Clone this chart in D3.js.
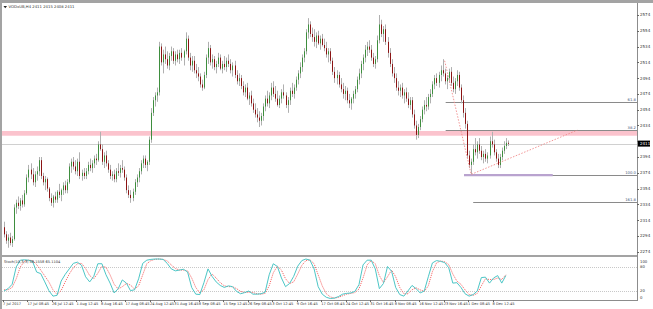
<!DOCTYPE html>
<html>
<head>
<meta charset="utf-8">
<script src="https://cdn.jsdelivr.net/npm/d3@7"></script>
<style>
  body { margin: 0; background: #fff; }
  svg { display: block; }
  text { font-family: "DejaVu Sans", sans-serif; }
</style>
</head>
<body>
<div id="chart"></div>
<script>
// H4 candles, [open, high, low, close]
const candles = [
  [2305,2312,2292,2296],[2296,2300,2284,2288],[2288,2296,2279,2292],[2292,2298,2282,2285],[2285,2294,2280,2290],
  [2290,2334,2288,2330],[2330,2340,2322,2336],[2336,2344,2328,2332],[2332,2342,2326,2339],[2339,2346,2330,2334],
  [2334,2352,2331,2348],[2348,2372,2346,2368],[2368,2384,2362,2378],[2378,2386,2366,2372],[2372,2380,2358,2362],
  [2362,2376,2356,2372],[2372,2382,2364,2376],[2376,2394,2370,2390],[2390,2394,2366,2370],[2370,2374,2358,2362],
  [2362,2370,2352,2366],[2366,2368,2350,2354],[2354,2356,2338,2342],[2342,2348,2332,2336],[2336,2346,2330,2344],
  [2344,2350,2336,2340],[2340,2352,2336,2350],[2350,2360,2342,2346],[2346,2354,2338,2352],[2352,2362,2346,2358],
  [2358,2364,2348,2352],[2352,2366,2348,2362],[2362,2386,2360,2382],[2382,2392,2374,2388],[2388,2394,2378,2382],
  [2382,2390,2372,2376],[2376,2392,2370,2388],[2388,2400,2366,2370],[2370,2378,2364,2374],[2374,2380,2366,2370],
  [2370,2380,2366,2376],[2376,2388,2372,2384],[2384,2392,2376,2380],[2380,2390,2374,2386],[2386,2396,2380,2392],
  [2392,2398,2384,2390],[2390,2414,2388,2410],[2410,2426,2402,2404],[2404,2410,2384,2388],[2388,2400,2380,2396],
  [2396,2402,2382,2386],[2386,2390,2374,2378],[2378,2384,2366,2370],[2370,2376,2364,2372],[2372,2378,2362,2366],
  [2366,2380,2362,2376],[2376,2386,2370,2374],[2374,2384,2368,2380],[2380,2390,2374,2378],[2378,2382,2364,2368],
  [2368,2372,2348,2352],[2352,2358,2342,2346],[2346,2352,2336,2342],[2342,2354,2338,2350],[2350,2366,2346,2362],
  [2362,2372,2356,2368],[2368,2380,2362,2376],[2376,2390,2372,2386],[2386,2396,2380,2392],[2392,2396,2380,2384],
  [2384,2390,2376,2388],[2388,2420,2384,2416],[2416,2456,2412,2450],[2450,2470,2446,2466],[2466,2476,2458,2472],
  [2472,2482,2464,2476],[2476,2540,2472,2534],[2534,2538,2510,2514],[2514,2530,2500,2524],[2524,2534,2512,2518],
  [2518,2528,2506,2510],[2510,2526,2504,2522],[2522,2534,2516,2528],[2528,2532,2512,2516],[2516,2528,2510,2524],
  [2524,2530,2514,2518],[2518,2530,2512,2526],[2526,2532,2516,2520],[2520,2530,2510,2528],[2528,2552,2524,2544],
  [2544,2548,2516,2520],[2520,2526,2504,2510],[2510,2522,2502,2516],[2516,2522,2500,2504],[2504,2512,2494,2500],
  [2500,2508,2490,2496],[2496,2500,2482,2486],[2486,2492,2478,2482],[2482,2502,2480,2498],[2498,2524,2494,2520],
  [2520,2540,2512,2532],[2532,2536,2510,2514],[2514,2524,2506,2518],[2518,2522,2504,2508],[2508,2516,2500,2512],
  [2512,2526,2508,2520],[2520,2524,2504,2506],[2506,2516,2500,2512],[2512,2522,2504,2508],[2508,2520,2502,2516],
  [2516,2524,2508,2512],[2512,2518,2500,2504],[2504,2514,2496,2510],[2510,2516,2494,2498],[2498,2504,2486,2490],
  [2490,2500,2484,2494],[2494,2498,2480,2484],[2484,2490,2472,2476],[2476,2486,2470,2482],[2482,2488,2466,2468],
  [2468,2476,2460,2472],[2472,2478,2458,2462],[2462,2468,2450,2454],[2454,2462,2444,2448],[2448,2456,2438,2444],
  [2444,2452,2432,2440],[2440,2450,2434,2446],[2446,2462,2440,2458],[2458,2472,2452,2468],[2468,2478,2458,2462],
  [2462,2476,2456,2472],[2472,2488,2466,2482],[2482,2490,2470,2474],[2474,2484,2464,2468],[2468,2478,2458,2460],
  [2460,2472,2456,2468],[2468,2480,2462,2476],[2476,2486,2468,2472],[2472,2476,2456,2460],[2460,2470,2450,2466],
  [2466,2482,2460,2478],[2478,2488,2470,2474],[2474,2486,2468,2482],[2482,2496,2478,2492],[2492,2504,2486,2500],
  [2500,2514,2494,2508],[2508,2524,2502,2520],[2520,2532,2514,2528],[2528,2556,2524,2552],[2552,2570,2544,2562],
  [2562,2566,2546,2550],[2550,2558,2540,2546],[2546,2556,2534,2540],[2540,2552,2532,2548],[2548,2554,2536,2538],
  [2538,2548,2530,2544],[2544,2550,2534,2536],[2536,2544,2528,2532],[2532,2540,2520,2524],[2524,2532,2514,2528],
  [2528,2532,2512,2516],[2516,2520,2498,2502],[2502,2508,2488,2494],[2494,2504,2486,2498],[2498,2502,2482,2486],
  [2486,2494,2476,2480],[2480,2488,2468,2474],[2474,2484,2466,2478],[2478,2482,2462,2466],[2466,2474,2456,2462],
  [2462,2470,2454,2468],[2468,2478,2462,2474],[2474,2484,2468,2480],[2480,2496,2476,2492],[2492,2506,2486,2500],
  [2500,2516,2494,2512],[2512,2524,2504,2520],[2520,2536,2514,2530],[2530,2540,2522,2534],[2534,2542,2526,2530],
  [2530,2536,2516,2520],[2520,2526,2508,2512],[2512,2522,2506,2518],[2518,2548,2514,2542],[2542,2574,2538,2562],
  [2562,2568,2546,2550],[2550,2560,2540,2556],[2556,2562,2536,2540],[2540,2546,2520,2526],[2526,2532,2508,2512],
  [2512,2518,2496,2500],[2500,2508,2488,2494],[2494,2500,2478,2482],[2482,2490,2472,2478],[2478,2486,2470,2482],
  [2482,2488,2468,2472],[2472,2480,2462,2476],[2476,2482,2464,2468],[2468,2476,2456,2460],[2460,2470,2454,2466],
  [2466,2470,2444,2448],[2448,2454,2430,2434],[2434,2440,2416,2422],[2422,2436,2418,2432],[2432,2446,2428,2442],
  [2442,2458,2438,2454],[2454,2466,2448,2460],[2460,2470,2452,2458],[2458,2474,2454,2470],[2470,2480,2462,2474],
  [2474,2490,2470,2486],[2486,2498,2480,2494],[2494,2500,2484,2488],[2488,2502,2482,2498],[2498,2510,2490,2504],
  [2504,2518,2496,2500],[2500,2506,2486,2490],[2490,2498,2480,2494],[2494,2506,2488,2502],[2502,2508,2484,2488],
  [2488,2496,2476,2480],[2480,2494,2474,2490],[2490,2504,2484,2498],[2498,2502,2478,2482],[2482,2486,2462,2466],
  [2466,2472,2444,2450],[2450,2456,2430,2436],[2436,2440,2392,2396],[2396,2402,2380,2384],[2384,2392,2372,2388],
  [2388,2410,2384,2404],[2404,2418,2396,2400],[2400,2414,2392,2410],[2410,2418,2398,2402],[2402,2408,2390,2394],
  [2394,2402,2386,2398],[2398,2404,2388,2392],[2392,2400,2386,2396],[2396,2420,2392,2414],[2414,2426,2406,2410],
  [2410,2416,2396,2400],[2400,2404,2388,2392],[2392,2398,2380,2384],[2384,2398,2380,2394],[2394,2406,2390,2402],
  [2402,2414,2398,2408],[2408,2418,2404,2412],[2412,2415,2408,2411]
];

// Stochastic(10,3,3), one value every second bar
const stochK = [19,25,36,80,97,98,97,94,67,63,42,20,6,8,44,61,75,89,92,84,55,42,56,88,88,60,39,14,25,47,39,20,22,50,89,97,99,100,100,99,
  89,75,70,72,74,67,28,11,10,40,75,56,42,33,28,32,30,18,12,15,19,11,11,12,16,60,88,81,52,30,38,56,82,96,100,97,75,30,11,3,
  0,1,5,11,13,14,18,35,85,97,97,75,25,38,81,69,28,10,6,19,33,25,14,19,55,90,96,94,91,78,39,40,28,12,6,10,19,53,54,39,52,58,39,58];
const stochD = [22,22,28,50,80,94,97,96,86,72,57,42,22,10,20,42,62,78,88,89,76,58,50,64,82,79,60,36,24,30,38,34,24,32,60,88,96,99,100,99,
  95,85,76,72,72,70,52,28,14,22,48,62,52,40,32,30,30,25,18,15,16,15,12,11,13,32,65,82,72,50,38,42,62,84,96,98,88,60,32,12,
  4,1,3,7,11,13,15,24,52,85,96,88,58,40,55,72,55,28,12,12,22,27,22,18,32,68,90,95,93,86,62,44,36,22,10,8,13,32,50,48,48,52,48,60];

const priceTicks = [2574,2554,2534,2514,2494,2474,2454,2434,2414,2394,2374,2354,2334,2314,2294,2274];
const stochTicks = [100,80,20,0];
const timeLabels = ["7 Jul 2017","17 Jul 08:45","26 Jul 12:45","1 Aug 12:45","8 Aug 16:45","17 Aug 08:45","24 Aug 12:45",
  "31 Aug 16:45","8 Sep 08:45","15 Sep 12:45","26 Sep 08:45","3 Oct 12:45","9 Oct 16:45","17 Oct 08:45","24 Oct 12:45",
  "31 Oct 16:45","8 Nov 08:45","16 Nov 12:45","23 Nov 16:45","1 Dec 08:45","8 Dec 12:45"];
const labelEvery = 12;

const lastPrice = 2411;
const zone = [2421, 2427];
const trendPoints = [{ i: 216, p: 2516 }, { i: 229, p: 2372 }, { i: 281, p: 2428 }];
const fibLevels = [
  { label: "61.8", p: 2464, from: 216.5 },
  { label: "38.2", p: 2428, from: 216.5 },
  { label: "100.0", p: 2371, from: 225.5 },
  { label: "161.8", p: 2337, from: 230 }
];
const baseSpan = [225.5, 269];

const W = 653, H = 309;
const plotR = 637, mainT = 3, mainB = 255, stochT = 257, stochB = 300;

const svg = d3.select('#chart').append('svg')
    .attr('width', W)
    .attr('height', H);

// scales
const x = d3.scaleLinear().domain([0, 311]).range([4, 4 + 311 * 2.04]);
const y = d3.scaleLinear().domain([2274, 2574]).range([251.7, 15]);
const ys = d3.scaleLinear().domain([0, 100]).range([298.5, 259]);

svg.append('clipPath').attr('id', 'mainClip')
  .append('rect').attr('x', 2).attr('y', mainT).attr('width', plotR - 2).attr('height', mainB - mainT);

const main = svg.append('g').attr('clip-path', 'url(#mainClip)');

// support zone
main.append('rect')
    .attr('x', 2).attr('width', plotR - 2)
    .attr('y', y(zone[1])).attr('height', y(zone[0]) - y(zone[1]))
    .style('fill', '#fbc3cd');

// current price line
main.append('line')
    .attr('x1', 2).attr('x2', plotR)
    .attr('y1', Math.round(y(lastPrice)) + 0.5).attr('y2', Math.round(y(lastPrice)) + 0.5)
    .style('stroke', '#d0d0d0');

// fib lines
main.selectAll('.fib')
    .data(fibLevels)
    .enter().append('line')
    .attr('x1', d => x(d.from)).attr('x2', plotR)
    .attr('y1', d => Math.round(y(d.p)) + 0.5).attr('y2', d => Math.round(y(d.p)) + 0.5)
    .style('stroke', '#8a8a8a');

main.append('line')
    .attr('x1', x(baseSpan[0])).attr('x2', x(baseSpan[1]))
    .attr('y1', y(2371)).attr('y2', y(2371))
    .style('stroke', '#b9a3cf').style('stroke-width', 2.2);

// candles
const candle = main.selectAll('.candle')
    .data(candles)
    .enter().append('g');

candle.append('line')
    .attr('x1', (d, i) => Math.round(x(i)) + 0.5)
    .attr('x2', (d, i) => Math.round(x(i)) + 0.5)
    .attr('y1', d => y(d[1]))
    .attr('y2', d => y(d[2]))
    .style('stroke', '#b0b0b0');

candle.append('rect')
    .attr('x', (d, i) => Math.round(x(i)))
    .attr('width', 1)
    .attr('y', d => y(Math.max(d[0], d[3])))
    .attr('height', d => Math.max(1, Math.abs(y(d[0]) - y(d[3]))))
    .style('fill', d => d[3] >= d[0] ? '#3e8e3e' : '#8b1414');

// dotted trend lines
main.append('path')
    .datum(trendPoints)
    .attr('d', d3.line().x(d => x(d.i)).y(d => y(d.p)))
    .style('fill', 'none')
    .style('stroke', '#f08a8a')
    .style('stroke-width', 0.9)
    .style('stroke-dasharray', '1.5,1.5');

// fib labels
svg.selectAll('.fibLabel')
    .data(fibLevels)
    .enter().append('text')
    .attr('x', plotR - 1).attr('y', d => y(d.p) - 1)
    .attr('text-anchor', 'end')
    .style('font-size', '3.8px')
    .style('fill', '#4a5a7a')
    .text(d => d.label);

// frame
svg.append('rect').attr('x', 0).attr('y', 0).attr('width', W).attr('height', 3).style('fill', '#a3a3a3');
svg.append('rect').attr('x', 0).attr('y', 0).attr('width', 2).attr('height', H).style('fill', '#a3a3a3');
svg.append('rect').attr('x', 2).attr('y', mainB).attr('width', plotR - 2).attr('height', 2).style('fill', '#a3a3a3');
svg.append('line').attr('x1', plotR + 0.5).attr('x2', plotR + 0.5).attr('y1', mainT).attr('y2', stochB + 0.5)
    .style('stroke', '#8c8c8c');
svg.append('line').attr('x1', 2).attr('x2', plotR + 1).attr('y1', stochB + 0.5).attr('y2', stochB + 0.5)
    .style('stroke', '#8c8c8c');

// price axis (the label hidden by the last-price box is skipped)
const visibleTicks = priceTicks.filter(d => Math.abs(y(d) - y(lastPrice)) > 5);
const pAxis = svg.append('g');
pAxis.selectAll('line')
    .data(priceTicks)
    .enter().append('line')
    .attr('x1', plotR).attr('x2', plotR + 2)
    .attr('y1', d => Math.round(y(d)) + 0.5).attr('y2', d => Math.round(y(d)) + 0.5)
    .style('stroke', '#666');
pAxis.selectAll('text')
    .data(visibleTicks)
    .enter().append('text')
    .attr('x', plotR + 3).attr('y', d => y(d) + 1.4)
    .style('font-size', '4px')
    .style('fill', '#333')
    .text(d => d);

// last price box
svg.append('rect')
    .attr('x', plotR + 1).attr('y', y(lastPrice) - 3)
    .attr('width', 12).attr('height', 6)
    .style('fill', '#000');
svg.append('text')
    .attr('x', plotR + 3).attr('y', y(lastPrice) + 1.4)
    .style('font-size', '4px').style('fill', '#fff')
    .text(lastPrice);

// title
svg.append('path').attr('d', 'M3.5,6 L7,6 L5.25,8.2 Z').style('fill', '#222');
svg.append('text')
    .attr('x', 8.5).attr('y', 8.3)
    .style('font-size', '3.8px').style('fill', '#333')
    .text('VODxUB,H4  2411 2415 2408 2411');

// stochastic panel
const stoch = svg.append('g');
stoch.selectAll('.lvl')
    .data([80, 20])
    .enter().append('line')
    .attr('x1', 2).attr('x2', plotR)
    .attr('y1', d => Math.round(ys(d)) + 0.5).attr('y2', d => Math.round(ys(d)) + 0.5)
    .style('stroke', '#c8c8c8')
    .style('stroke-dasharray', '1,1');

stoch.append('path')
    .datum(stochD)
    .attr('d', d3.line().x((d, j) => x(j * 2)).y(d => ys(d)))
    .style('fill', 'none')
    .style('stroke', '#f45a5a')
    .style('stroke-width', 0.9)
    .style('stroke-dasharray', '1.2,1');

stoch.append('path')
    .datum(stochK)
    .attr('d', d3.line().x((d, j) => x(j * 2)).y(d => ys(d)))
    .style('fill', 'none')
    .style('stroke', '#4cc6c6')
    .style('stroke-width', 1);

stoch.append('text')
    .attr('x', 4).attr('y', 263)
    .style('font-size', '3.6px').style('fill', '#333')
    .text('Stoch(10,3,3) 58.1558 65.1104');

stoch.selectAll('.sl')
    .data(stochTicks)
    .enter().append('text')
    .attr('x', plotR + 3)
    .attr('y', d => d === 100 ? 262.5 : d === 0 ? 298.5 : ys(d) + 1.4)
    .style('font-size', '3.8px').style('fill', '#333')
    .text(d => d);

// time axis
svg.selectAll('.tl')
    .data(timeLabels)
    .enter().append('text')
    .attr('x', (d, k) => x(k * labelEvery) - 1)
    .attr('y', 305)
    .style('font-size', '3.6px').style('fill', '#333')
    .text(d => d);
svg.selectAll('.tt')
    .data(timeLabels)
    .enter().append('line')
    .attr('x1', (d, k) => Math.round(x(k * labelEvery)) - 0.5)
    .attr('x2', (d, k) => Math.round(x(k * labelEvery)) - 0.5)
    .attr('y1', stochB).attr('y2', stochB + 2)
    .style('stroke', '#666');
</script>
</body>
</html>
